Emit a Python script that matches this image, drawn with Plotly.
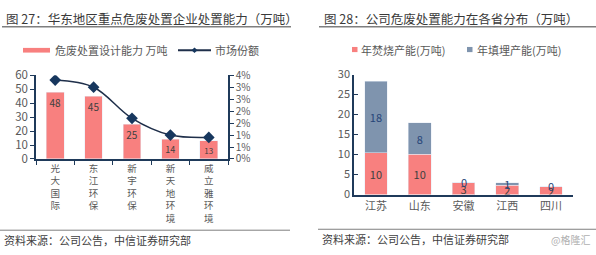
import plotly.graph_objects as go

W, H = 596, 255

# ---- data chart 1 ----
companies = ["光大国际", "东江环保", "新宇环保", "新天地环境", "威立雅环境"]
capacity = [48, 45, 25, 14, 13]
share = [0.033, 0.030, 0.017, 0.010, 0.009]
share_ticks = [0, 0.005, 0.01, 0.015, 0.02, 0.025, 0.03, 0.035]
share_ticktext = ["0%", "1%", "1%", "2%", "2%", "3%", "3%", "4%"]

# ---- data chart 2 ----
provinces = ["江苏", "山东", "安徽", "江西", "四川"]
incineration = [10.4, 10.1, 3.0, 2.3, 2.0]
landfill = [17.9, 7.8, 0.0, 0.7, 0.0]

FONT = "Noto Sans CJK SC"
GRAY = "#595959"
AXIS = "#1F3A5A"
RED = "#F8807F"
BLUE = "#7F94AE"
NAVY = "#17375E"


def px(x):
    return x / W


def py(y):
    return 1 - y / H


fig = go.Figure()

fig.add_trace(go.Bar(
    x=companies, y=capacity, marker_color=RED, width=0.46,
    text=capacity, textposition="inside", insidetextanchor="end", textangle=0,
    textfont=dict(size=10, color="#404040", family=FONT),
    xaxis="x", yaxis="y", showlegend=False,
))
fig.add_trace(go.Scatter(
    x=companies, y=share, mode="lines+markers",
    line=dict(color="#1F2F4A", width=1.5, shape="spline", smoothing=1),
    marker=dict(symbol="diamond", size=9, color=NAVY),
    xaxis="x", yaxis="y2", showlegend=False,
))

fig.add_trace(go.Bar(
    x=provinces, y=incineration, marker_color=RED, width=0.52,
    text=incineration, texttemplate="%{y:.0f}", textposition="inside",
    insidetextanchor="middle", constraintext="none", textangle=0,
    textfont=dict(size=11, color="#404040", family=FONT),
    xaxis="x3", yaxis="y3", showlegend=False,
))
fig.add_trace(go.Bar(
    x=provinces, y=landfill, marker_color=BLUE, width=0.52,
    text=landfill, texttemplate="%{y:.0f}", textposition="inside",
    insidetextanchor="middle", constraintext="none", textangle=0,
    textfont=dict(size=11, color="#264478", family=FONT),
    xaxis="x3", yaxis="y3", showlegend=False,
))

stacked_text = ["<br>".join(list(c)) for c in companies]

fig.update_layout(
    width=W, height=H,
    margin=dict(l=0, r=0, t=0, b=0),
    paper_bgcolor="white", plot_bgcolor="white",
    font=dict(family=FONT, color=GRAY, size=11),
    barmode="stack",
    xaxis=dict(domain=[px(36), px(228)], anchor="y",
               tickvals=companies, ticktext=stacked_text,
               showline=True, linecolor=AXIS, linewidth=1.5,
               ticks="outside", tickson="boundaries", ticklen=4, tickcolor=AXIS,
               tickfont=dict(size=9.5, color=GRAY), tickangle=0),
    yaxis=dict(domain=[py(160), py(70.7)], range=[0, 60], dtick=10,
               showline=True, linecolor=AXIS, linewidth=1.5, showgrid=False,
               ticks="outside", ticklen=4, tickcolor=AXIS,
               tickfont=dict(size=11.5, color=GRAY), zeroline=False),
    yaxis2=dict(overlaying="y", side="right", anchor="x", range=[0, 0.035],
                tickvals=share_ticks, ticktext=share_ticktext,
                showline=True, linecolor=AXIS, linewidth=1.5, showgrid=False,
                ticks="outside", ticklen=4, tickcolor=AXIS,
                tickfont=dict(size=10, color=GRAY), zeroline=False),
    xaxis3=dict(domain=[px(354), px(573)], anchor="y3",
                showline=True, linecolor=AXIS, linewidth=1.5,
                ticks="", tickfont=dict(size=11, color=GRAY)),
    yaxis3=dict(domain=[py(198), py(70)], range=[0, 30], dtick=5, anchor="x3",
                showline=True, linecolor=AXIS, linewidth=1.5, showgrid=False,
                ticks="inside", ticklen=4, tickcolor=AXIS,
                tickfont=dict(size=11, color=GRAY), zeroline=False),
)

shapes = []
ann = []

# labels for zero-height landfill segments (drawn at the top of the stack)
for p, inc, lf in zip(provinces, incineration, landfill):
    if lf == 0:
        ann.append(dict(x=p, y=inc + lf, xref="x3", yref="y3", text=f"{lf:.0f}",
                        showarrow=False, yanchor="middle", yshift=1,
                        font=dict(size=11, color="#264478", family=FONT)))

# titles and underline
ann.append(dict(x=px(4), y=py(10), xref="paper", yref="paper", xanchor="left", yanchor="middle",
                text="图 27：华东地区重点危废处置企业处置能力（万吨）", showarrow=False,
                font=dict(size=12.5, color="#3A3A3A", family=FONT)))
ann.append(dict(x=px(322), y=py(10), xref="paper", yref="paper", xanchor="left", yanchor="middle",
                text="图 28：公司危废处置能力在各省分布（万吨）", showarrow=False,
                font=dict(size=12.5, color="#3A3A3A", family=FONT)))
shapes.append(dict(type="line", xref="paper", yref="paper", x0=px(2), x1=px(291), y0=py(19), y1=py(19),
                   line=dict(color="#7F7F7F", width=1.5)))
shapes.append(dict(type="line", xref="paper", yref="paper", x0=px(319), x1=px(596), y0=py(19), y1=py(19),
                   line=dict(color="#7F7F7F", width=1.5)))

# legend chart 1
shapes.append(dict(type="rect", xref="paper", yref="paper", x0=px(23), x1=px(50), y0=py(46.5), y1=py(41.5),
                   fillcolor=RED, line=dict(width=0)))
ann.append(dict(x=px(53), y=py(44), xref="paper", yref="paper", xanchor="left", yanchor="middle",
                text="危废处置设计能力 万吨", showarrow=False, font=dict(size=11, color=GRAY)))
shapes.append(dict(type="line", xref="paper", yref="paper", x0=px(178), x1=px(211), y0=py(44), y1=py(44),
                   line=dict(color="#1F2F4A", width=2)))
shapes.append(dict(type="path", xref="paper", yref="paper",
                   path=f"M {px(194.5)} {py(41)} L {px(197.5)} {py(44)} L {px(194.5)} {py(47)} L {px(191.5)} {py(44)} Z",
                   fillcolor=NAVY, line=dict(width=0)))
ann.append(dict(x=px(213), y=py(44), xref="paper", yref="paper", xanchor="left", yanchor="middle",
                text="市场份额", showarrow=False, font=dict(size=11, color=GRAY)))

# legend chart 2
shapes.append(dict(type="rect", xref="paper", yref="paper", x0=px(352), x1=px(357.5), y0=py(46), y1=py(40.5),
                   fillcolor=RED, line=dict(width=0)))
ann.append(dict(x=px(359), y=py(44), xref="paper", yref="paper", xanchor="left", yanchor="middle",
                text="年焚烧产能(万吨)", showarrow=False, font=dict(size=11, color=GRAY)))
shapes.append(dict(type="rect", xref="paper", yref="paper", x0=px(467), x1=px(472.5), y0=py(46), y1=py(40.5),
                   fillcolor=BLUE, line=dict(width=0)))
ann.append(dict(x=px(475), y=py(44), xref="paper", yref="paper", xanchor="left", yanchor="middle",
                text="年填埋产能(万吨)", showarrow=False, font=dict(size=11, color=GRAY)))

# source lines
shapes.append(dict(type="line", xref="paper", yref="paper", x0=px(0), x1=px(290), y0=py(236), y1=py(236),
                   line=dict(color="#7F7F7F", width=1)))
shapes.append(dict(type="line", xref="paper", yref="paper", x0=px(318), x1=px(596), y0=py(235), y1=py(235),
                   line=dict(color="#7F7F7F", width=1)))
ann.append(dict(x=px(2), y=py(246.5), xref="paper", yref="paper", xanchor="left", yanchor="middle",
                text="资料来源：公司公告，中信证券研究部", showarrow=False, font=dict(size=11, color="#404040")))
ann.append(dict(x=px(320), y=py(245.5), xref="paper", yref="paper", xanchor="left", yanchor="middle",
                text="资料来源：公司公告，中信证券研究部", showarrow=False, font=dict(size=11, color="#404040")))
ann.append(dict(x=px(592), y=py(246), xref="paper", yref="paper", xanchor="right", yanchor="middle",
                text="@格隆汇", showarrow=False, font=dict(size=10, color="#B0B0B0")))

fig.update_layout(shapes=shapes, annotations=ann)

fig.write_html("out.html")
